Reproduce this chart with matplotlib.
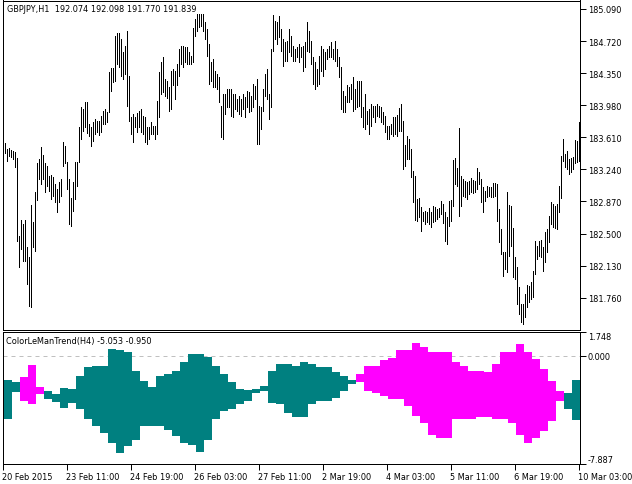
import numpy as np
import matplotlib
matplotlib.use('Agg')
import matplotlib.pyplot as plt

# ----------------------------------------------------------------------------------------------------------------------
# data: GBPJPY H1 bars (high / low)

highs = [183.53, 183.54, 183.47, 183.49, 183.46, 183.45, 183.44, 183.37, 182.47, 182.66,
         182.61, 182.66, 182.34, 182.23, 182.83, 182.63, 182.98, 183.31, 183.36, 183.50,
         183.41, 183.31, 183.28, 183.16, 183.18, 183.15, 183.07, 183.01, 183.09, 183.13,
         183.56, 183.51, 183.32, 183.13, 182.91, 183.09, 183.32, 183.32, 183.73, 183.96,
         183.94, 184.02, 184.02, 183.76, 183.73, 183.79, 183.82, 183.80, 183.80, 183.86,
         183.91, 183.94, 183.90, 184.36, 184.41, 184.41, 184.78, 184.81, 184.81, 184.74,
         184.59, 184.66, 184.84, 184.32, 183.84, 183.88, 183.84, 183.89, 183.91, 183.94,
         183.86, 183.84, 183.73, 183.73, 183.79, 183.74, 183.74, 184.03, 184.36, 184.48,
         184.54, 184.28, 184.26, 184.19, 184.37, 184.40, 184.37, 184.46, 184.63, 184.66,
         184.66, 184.65, 184.65, 184.59, 184.55, 184.87, 184.97, 185.03, 185.03, 185.03,
         185.03, 184.94, 184.86, 184.69, 184.48, 184.51, 184.37, 184.34, 184.31, 183.97,
         184.11, 184.11, 184.17, 184.17, 184.17, 184.11, 184.11, 184.05, 184.09, 184.05,
         184.11, 184.07, 184.14, 184.13, 184.09, 184.22, 184.20, 184.28, 183.97, 183.96,
         184.17, 184.34, 184.40, 184.11, 184.63, 185.02, 184.95, 184.94, 185.01, 184.86,
         184.74, 184.71, 184.72, 184.86, 184.78, 184.66, 184.63, 184.65, 184.69, 184.65,
         184.66, 184.71, 184.94, 184.84, 184.72, 184.54, 184.48, 184.40, 184.55, 184.66,
         184.63, 184.59, 184.63, 184.66, 184.71, 184.63, 184.72, 184.63, 184.54, 184.42,
         184.14, 184.09, 184.21, 184.19, 184.22, 184.31, 184.17, 184.26, 184.26, 184.26,
         183.96, 184.11, 183.91, 183.94, 183.99, 183.97, 183.97, 183.99, 183.97, 183.96,
         183.90, 183.86, 183.74, 183.74, 183.76, 183.84, 183.84, 183.87, 183.95, 183.99,
         183.80, 183.52, 183.62, 183.59, 183.47, 183.22, 183.16, 182.90, 182.91, 182.81,
         182.75, 182.76, 182.75, 182.79, 182.75, 182.82, 182.81, 182.78, 182.79, 182.87,
         182.84, 182.75, 182.69, 182.87, 182.89, 183.35, 183.37, 183.26, 183.72, 183.16,
         183.13, 183.11, 183.09, 183.11, 183.14, 183.12, 183.11, 183.26, 183.21, 183.13,
         183.04, 182.99, 183.05, 183.04, 183.04, 183.08, 183.08, 183.07, 182.78, 182.55,
         182.29, 182.29, 182.98, 182.83, 182.82, 182.56, 182.23, 182.11, 181.88, 181.69,
         181.69, 181.80, 181.91, 181.89, 181.94, 182.07, 182.41, 182.36, 182.41, 182.43,
         182.34, 182.52, 182.55, 182.70, 182.86, 182.84, 182.82, 182.84, 183.05, 183.39,
         183.59, 183.42, 183.45, 183.36, 183.37, 183.38, 183.58, 183.57, 183.79]

lows = [183.42, 183.43, 183.34, 183.39, 183.38, 183.36, 183.27, 182.41, 182.11, 182.32,
        182.18, 182.18, 181.92, 181.66, 181.65, 182.34, 182.30, 182.89, 183.13, 183.07,
        183.13, 182.98, 183.05, 182.99, 182.90, 182.93, 182.86, 182.75, 182.86, 182.93,
        183.28, 183.31, 183.01, 182.61, 182.59, 182.76, 182.90, 183.05, 183.32, 183.59,
        183.68, 183.73, 183.66, 183.62, 183.51, 183.57, 183.65, 183.67, 183.64, 183.67,
        183.76, 183.76, 183.79, 183.90, 184.14, 184.25, 184.26, 184.46, 184.42, 184.32,
        184.28, 184.34, 183.97, 183.80, 183.65, 183.56, 183.73, 183.67, 183.73, 183.67,
        183.65, 183.56, 183.53, 183.59, 183.65, 183.65, 183.59, 183.65, 183.84, 184.11,
        184.13, 184.09, 184.06, 183.91, 183.94, 184.21, 184.05, 184.21, 184.32, 184.46,
        184.42, 184.48, 184.46, 184.46, 184.46, 184.48, 184.78, 184.84, 184.88, 184.89,
        184.84, 184.74, 184.55, 184.22, 184.26, 184.19, 184.19, 184.17, 184.02, 183.61,
        183.59, 183.88, 183.96, 183.96, 183.86, 183.84, 183.94, 183.91, 183.88, 183.86,
        183.94, 183.84, 183.96, 183.90, 183.91, 183.96, 184.05, 183.53, 183.53, 183.70,
        183.91, 184.09, 184.05, 183.82, 183.96, 184.61, 184.74, 184.69, 184.77, 184.61,
        184.43, 184.49, 184.49, 184.59, 184.55, 184.49, 184.49, 184.54, 184.48, 184.54,
        184.37, 184.42, 184.61, 184.59, 184.46, 184.22, 184.17, 184.20, 184.22, 184.37,
        184.32, 184.40, 184.51, 184.54, 184.54, 184.51, 184.49, 184.43, 184.31, 183.94,
        183.90, 183.90, 184.02, 184.02, 184.05, 183.91, 183.94, 183.96, 183.97, 183.84,
        183.73, 183.70, 183.76, 183.65, 183.74, 183.84, 183.79, 183.86, 183.84, 183.79,
        183.76, 183.67, 183.59, 183.59, 183.65, 183.62, 183.65, 183.62, 183.68, 183.68,
        183.24, 183.28, 183.36, 183.36, 183.15, 182.86, 182.66, 182.64, 182.69, 182.53,
        182.64, 182.61, 182.63, 182.61, 182.58, 182.63, 182.64, 182.67, 182.69, 182.73,
        182.62, 182.41, 182.38, 182.59, 182.64, 182.82, 183.07, 183.05, 182.70, 182.82,
        182.93, 182.92, 182.90, 182.96, 182.98, 182.97, 182.98, 183.01, 183.07, 182.86,
        182.75, 182.87, 182.92, 182.93, 182.92, 182.92, 182.93, 182.64, 182.40, 182.26,
        182.01, 182.09, 182.06, 182.24, 182.36, 182.00, 181.98, 181.69, 181.57, 181.48,
        181.46, 181.54, 181.65, 181.71, 181.74, 181.77, 182.03, 182.21, 182.24, 182.23,
        182.07, 182.17, 182.29, 182.40, 182.61, 182.58, 182.56, 182.55, 182.75, 182.91,
        183.34, 183.27, 183.24, 183.19, 183.21, 183.24, 183.31, 183.32, 183.34]

# ColorLeManTrend(H4): one value pair per H4 bar (4 H1 bars each), 0 = teal, 1 = magenta
ind_hi = [-1.78, -1.78, -1.95, -1.59, -0.68, -2.27, -2.57, -2.81, -2.37, -2.44,
          -1.46, -0.85, -0.73, -0.73, 0.50, 0.38, 0.25, -1.10, -1.83, -2.32,
          -1.46, -1.34, -1.10, -0.48, 0.13, 0.13, -0.12, -0.73, -1.34, -1.95,
          -2.44, -2.52, -2.44, -2.20, -1.10, -0.61, -0.61, -0.73, -0.48, -0.61,
          -0.85, -0.85, -1.22, -1.46, -1.78, -1.34, -0.73, -0.73, -0.36, -0.19,
          0.38, 0.38, 0.94, 0.62, 0.25, 0.25, 0.25, -0.48, -0.73, -1.10,
          -1.10, -1.22, -0.61, 0.25, 0.25, 0.87, 0.25, -0.24, -0.97, -1.83,
          -2.57, -2.74, -1.78]
ind_lo = [-4.65, -4.65, -2.64, -3.30, -3.55, -2.81, -3.18, -3.38, -3.79, -3.43,
          -3.92, -4.65, -5.14, -5.63, -6.37, -7.10, -6.61, -6.12, -5.14, -5.14,
          -5.14, -5.39, -5.88, -6.37, -6.49, -6.98, -6.12, -4.65, -4.04, -3.92,
          -3.55, -3.30, -2.69, -2.57, -3.43, -3.55, -4.16, -4.46, -4.46, -3.55,
          -3.30, -3.30, -3.06, -2.57, -2.08, -1.95, -2.57, -2.69, -2.94, -3.18,
          -3.18, -3.67, -4.41, -4.90, -5.75, -6.00, -6.00, -4.65, -4.60, -4.60,
          -4.46, -4.46, -4.60, -4.60, -4.90, -5.75, -6.37, -6.00, -5.51, -4.77,
          -3.30, -3.92, -4.70]
ind_dir = [0, 0, 0, 1, 1, 1] + [0] * 39 + [1] * 26 + [0, 0]

price_ticks = [185.090, 184.720, 184.350, 183.980, 183.610, 183.240, 182.870, 182.500, 182.130, 181.760]
ind_ticks = [1.748, 0.000, -7.887]
time_pos = [0, 32, 64, 96, 128, 160, 192, 224, 256, 288]
time_labels = ['20 Feb 2015', '23 Feb 11:00', '24 Feb 19:00', '26 Feb 03:00', '27 Feb 11:00',
               '2 Mar 19:00', '4 Mar 03:00', '5 Mar 11:00', '6 Mar 19:00', '10 Mar 03:00']
title_main = 'GBPJPY,H1  192.074 192.098 191.770 191.839'
title_ind = 'ColorLeManTrend(H4) -5.053 -0.950'

# ----------------------------------------------------------------------------------------------------------------------
# layout (pixel boxes of the two panels)

W, H = 632, 485
fs = 5.9
px = 0.72  # one pixel in points


def box(x0, y0, x1, y1):
    return [x0 / W, 1 - y1 / H, (x1 - x0) / W, (y1 - y0) / H]


plt.rcParams['font.family'] = 'DejaVu Sans'
fig = plt.figure(figsize=(W / 100, H / 100), dpi=100)
ax1 = fig.add_axes(box(2.5, 1.5, 580, 331))
ax2 = fig.add_axes(box(2.5, 332.5, 580, 465))

# ----------------------------------------------------------------------------------------------------------------------
# price bars

idx = np.arange(len(highs))
ax1.vlines(idx, lows, highs, color='black', linewidth=px, antialiased=False)
ax1.set_xlim(0, 288.75)
ax1.set_ylim(181.387, 185.188)
ax1.set_xticks([])
ax1.yaxis.tick_right()
ax1.set_yticks(price_ticks)
ax1.set_yticklabels(['{:.3f}'.format(v) for v in price_ticks])
ax1.tick_params(axis='y', length=4, width=px, labelsize=fs, pad=1.5)
fig.text(7 / W, 1 - 9 / H, title_main, fontsize=fs, va='center', ha='left')

# ----------------------------------------------------------------------------------------------------------------------
# indicator histogram

centers = np.arange(len(ind_hi)) * 4 - 1.5
cols = ['#008080' if d == 0 else '#ff00ff' for d in ind_dir]
ax2.axhline(0, color='#c0c0c0', linewidth=px, linestyle=(0, (4, 4)), zorder=0.5)
ax2.bar(centers, np.array(ind_hi) - np.array(ind_lo), bottom=ind_lo, width=4, color=cols,
        linewidth=0, antialiased=False, zorder=1)
ax2.set_xlim(0, 288.75)
ax2.set_ylim(-7.887, 1.748)
ax2.yaxis.tick_right()
ax2.set_yticks(ind_ticks)
ax2.set_yticklabels(['{:.3f}'.format(v) for v in ind_ticks])
ax2.tick_params(axis='y', length=4, width=px, labelsize=fs, pad=1.5)
yt = ax2.yaxis.get_major_ticks()
yt[0].label2.set_va('top')
yt[2].label2.set_va('bottom')
ax2.set_xticks(time_pos)
ax2.set_xticklabels(time_labels)
ax2.tick_params(axis='x', length=4, width=px, labelsize=fs, pad=2)
for lbl in ax2.get_xticklabels():
    lbl.set_ha('left')
fig.text(6 / W, 1 - 341.5 / H, title_ind, fontsize=fs, va='center', ha='left')

for ax in (ax1, ax2):
    for sp in ax.spines.values():
        sp.set_linewidth(px)
        sp.set_color('black')

fig.savefig('out.png', dpi=100, facecolor='white')
